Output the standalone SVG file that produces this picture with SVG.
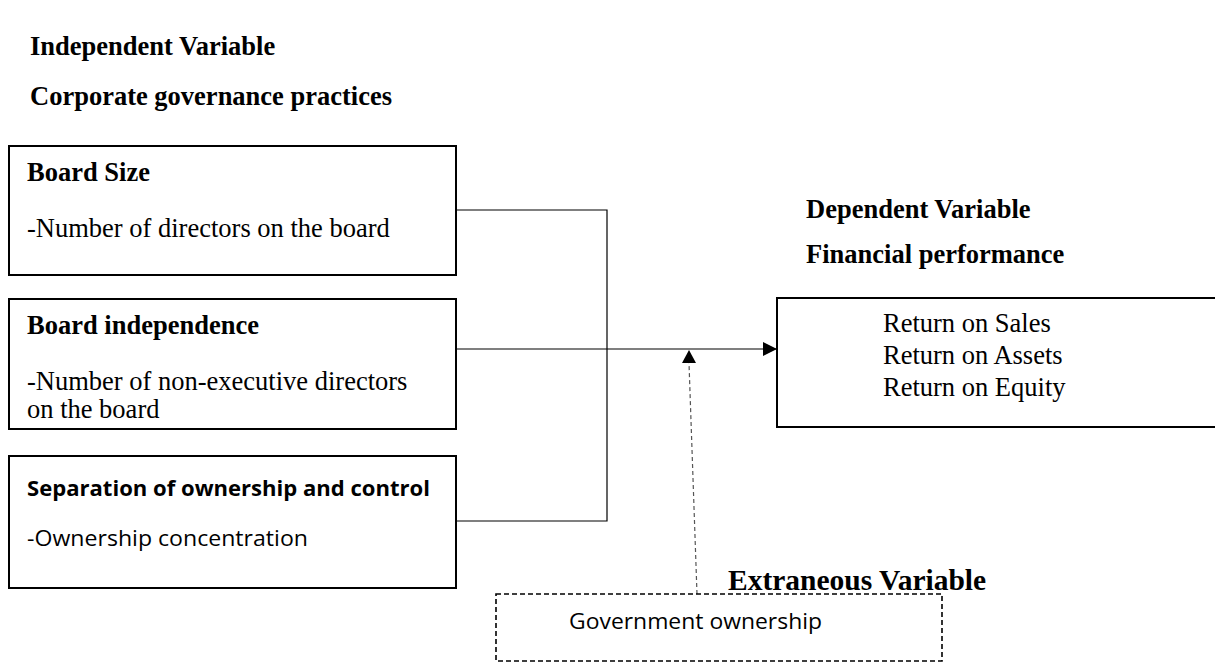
<svg xmlns="http://www.w3.org/2000/svg" width="1215" height="665" viewBox="0 0 1215 665">
  <style>
    .bg { fill: #ffffff; }
    .box { fill: #ffffff; stroke: #000000; stroke-width: 2; }
    .dbox { fill: #ffffff; stroke: #000000; stroke-width: 1.6; stroke-dasharray: 5 3; }
    .serif { font-family: "Liberation Serif", "Times New Roman", serif; font-size: 26.5px; fill: #000000; }
    .bold { font-weight: bold; }
    .big { font-size: 29.5px; }
    .sans { font-family: "Open Sans", "Noto Sans", sans-serif; font-size: 21px; fill: #000000; }
    .line { fill: none; stroke: #000000; stroke-width: 1.2; }
    .dash { fill: none; stroke: #555555; stroke-width: 1.2; stroke-dasharray: 4 3; }
  </style>
  <defs>
    <marker id="arrow" viewBox="0 0 14 14" refX="14" refY="7" markerWidth="14" markerHeight="14" markerUnits="userSpaceOnUse" orient="auto">
      <path d="M0,0 L14,7 L0,14 Z" fill="#000000"/>
    </marker>
  </defs>
  <rect class="bg" x="0" y="0" width="1215" height="665"/>

  <g id="titles">
    <text class="serif bold" x="30" y="55">Independent Variable</text>
    <text class="serif bold" x="30" y="105">Corporate governance practices</text>
    <text class="serif bold" x="806" y="218">Dependent Variable</text>
    <text class="serif bold" x="806" y="263">Financial performance</text>
    <text class="serif bold big" x="728" y="590">Extraneous Variable</text>
  </g>

  <g id="connectors">
    <polyline class="line" points="456,210 607,210 607,521 456,521"/>
    <line class="line" x1="456" y1="349" x2="777" y2="349" marker-end="url(#arrow)"/>
    <line class="dash" x1="697" y1="594" x2="689" y2="363"/>
    <path d="M682,363 L696,363 L689,350 Z" fill="#000000"/>
  </g>

  <g id="board-size">
    <rect class="box" x="9" y="146" width="447" height="129"/>
    <text class="serif bold" x="27" y="181">Board Size</text>
    <text class="serif" x="27" y="237">-Number of directors on the board</text>
  </g>

  <g id="board-independence">
    <rect class="box" x="9" y="299" width="447" height="130"/>
    <text class="serif bold" x="27" y="334">Board independence</text>
    <text class="serif" x="27" y="390">-Number of non-executive directors</text>
    <text class="serif" x="27" y="418">on the board</text>
  </g>

  <g id="separation">
    <rect class="box" x="9" y="456" width="447" height="132"/>
    <text class="sans bold" x="27" y="496" textLength="403" lengthAdjust="spacingAndGlyphs">Separation of ownership and control</text>
    <text class="sans" x="27" y="546" textLength="281" lengthAdjust="spacingAndGlyphs">-Ownership concentration</text>
  </g>

  <g id="financial-performance">
    <rect class="box" x="777" y="298" width="460" height="129"/>
    <text class="serif" x="883" y="332">Return on Sales</text>
    <text class="serif" x="883" y="364">Return on Assets</text>
    <text class="serif" x="883" y="396">Return on Equity</text>
  </g>

  <g id="government-ownership">
    <rect class="dbox" x="496" y="594" width="446" height="67"/>
    <text class="sans" x="569" y="629" textLength="253" lengthAdjust="spacingAndGlyphs">Government ownership</text>
  </g>
</svg>
